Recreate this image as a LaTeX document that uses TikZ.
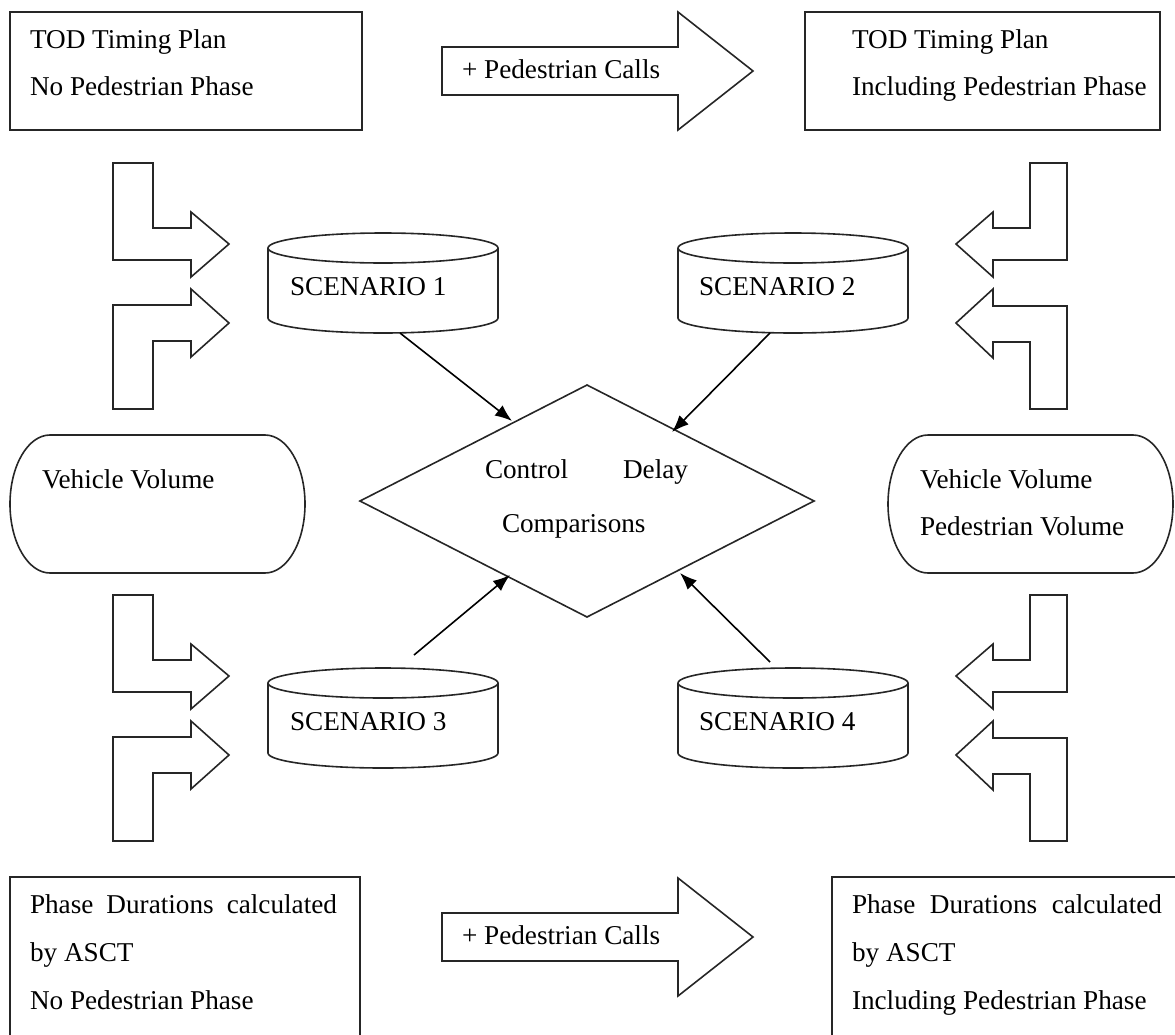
\documentclass[tikz,border=0pt]{standalone}
\usepackage{fontspec}
\setmainfont{Liberation Serif}
\usetikzlibrary{arrows.meta,shapes.geometric}
\begin{document}
\begin{tikzpicture}[x=1pt,y=-1pt,
  every node/.style={inner sep=0pt, outer sep=0pt},
  shapeline/.style={draw=black!85, line width=1.6pt, line join=miter},
  txt/.style={anchor=base west, font=\fontsize{27.2}{32}\selectfont},
  conn/.style={draw=black, line width=1.6pt, -{Latex[length=17pt,width=13pt]}},
  frame/.style={shapeline, rectangle, anchor=north west},
  cylpic/.pic={
    \draw[shapeline] (0,0) ellipse [x radius=115, y radius=15];
    \draw[shapeline] (-115,0) -- (-115,70) .. controls (-115,78.28) and (-63.5,85) .. (0,85)
      .. controls (63.5,85) and (115,78.28) .. (115,70) -- (115,0);
  }
]
\useasboundingbox (0,0) rectangle (1175,1034);
\clip (0,0) rectangle (1175,1034);

% frames
\node[frame, minimum width=352, minimum height=118] (tl) at (10,12) {};
\node[frame, minimum width=355, minimum height=118] (tr) at (805,12) {};
\node[frame, minimum width=350, minimum height=220] (bl) at (10,877) {};
\node[frame, minimum width=400, minimum height=220] (br) at (832,877) {};

\node[txt] (tl1) at (30,48) {TOD Timing Plan};
\node[txt] (tl2) at (30,95) {No Pedestrian Phase};
\node[txt] (tr1) at (852,48) {TOD Timing Plan};
\node[txt] (tr2) at (852,95) {Including Pedestrian Phase};
\node[txt] (bl1) at (30,913) {\makebox[307pt][s]{Phase Durations calculated}};
\node[txt] (bl2) at (30,961) {by ASCT};
\node[txt] (bl3) at (30,1009) {No Pedestrian Phase};
\node[txt] (br1) at (852,913) {\makebox[310pt][s]{Phase Durations calculated}};
\node[txt] (br2) at (852,961) {by ASCT};
\node[txt] (br3) at (852,1009) {Including Pedestrian Phase};

% block arrows
\foreach \dy in {0,866} {
  \begin{scope}[shift={(0,\dy)}]
    \draw[shapeline] (442,47) -- (678,47) -- (678,12) -- (753,71) -- (678,130) -- (678,95) -- (442,95) -- cycle;
  \end{scope}
}
\node[txt] (pc1) at (462,78) {+ Pedestrian Calls};
\node[txt] (pc2) at (462,944) {+ Pedestrian Calls};

% bent arrows
\foreach \dy in {0,432} {
  \begin{scope}[shift={(0,\dy)}]
    \draw[shapeline] (113,163) -- (153,163) -- (153,228) -- (191,228) -- (191,212) -- (229,244)
      -- (191,277) -- (191,260) -- (113,260) -- cycle;
    \draw[shapeline] (113,409) -- (153,409) -- (153,341) -- (191,341) -- (191,357) -- (229,323)
      -- (191,289) -- (191,305) -- (113,305) -- cycle;
    \draw[shapeline] (1067,163) -- (1030,163) -- (1030,228) -- (993,228) -- (993,212) -- (956,244)
      -- (993,277) -- (993,260) -- (1067,260) -- cycle;
    \draw[shapeline] (1067,409) -- (1030,409) -- (1030,342) -- (993,342) -- (993,358) -- (956,323)
      -- (993,289) -- (993,306) -- (1067,306) -- cycle;
  \end{scope}
}

% stadiums
\draw[shapeline] (50,435) -- (265,435) .. controls (287.1,435) and (305,465.9) .. (305,504)
  .. controls (305,542.1) and (287.1,573) .. (265,573) -- (50,573)
  .. controls (27.9,573) and (10,542.1) .. (10,504)
  .. controls (10,465.9) and (27.9,435) .. (50,435) -- cycle;
\draw[shapeline] (928,435) -- (1133,435) .. controls (1155.1,435) and (1173,465.9) .. (1173,504)
  .. controls (1173,542.1) and (1155.1,573) .. (1133,573) -- (928,573)
  .. controls (905.9,573) and (888,542.1) .. (888,504)
  .. controls (888,465.9) and (905.9,435) .. (928,435) -- cycle;
\node[txt] (vv1) at (42,488) {Vehicle Volume};
\node[txt] (vv2) at (920,488) {Vehicle Volume};
\node[txt] (pv) at (920,535) {Pedestrian Volume};

% cylinders
\pic (cyl1) at (383,248) {cylpic};
\pic (cyl2) at (793,248) {cylpic};
\pic (cyl3) at (383,683) {cylpic};
\pic (cyl4) at (793,683) {cylpic};
\node[txt] (sc1) at (290,295) {SCENARIO 1};
\node[txt] (sc2) at (699,295) {SCENARIO 2};
\node[txt] (sc3) at (290,730) {SCENARIO 3};
\node[txt] (sc4) at (699,730) {SCENARIO 4};

% diamond
\node[shapeline, diamond, minimum width=454, minimum height=232] (cmp) at (587,501) {};
\node[txt] (cd1) at (485,478) {\makebox[203pt][s]{Control Delay}};
\node[txt] (cd2) at (502,532) {Comparisons};

% connectors
\coordinate (s1) at (400,333); \coordinate (t1) at (512,421);
\coordinate (s2) at (770,333); \coordinate (t2) at (672,432);
\coordinate (s3) at (414,655); \coordinate (t3) at (510,575);
\coordinate (s4) at (770,662); \coordinate (t4) at (680,573);
\draw[conn] (s1) -- (t1);
\draw[conn] (s2) -- (t2);
\draw[conn] (s3) -- (t3);
\draw[conn] (s4) -- (t4);
\end{tikzpicture}
\end{document}
